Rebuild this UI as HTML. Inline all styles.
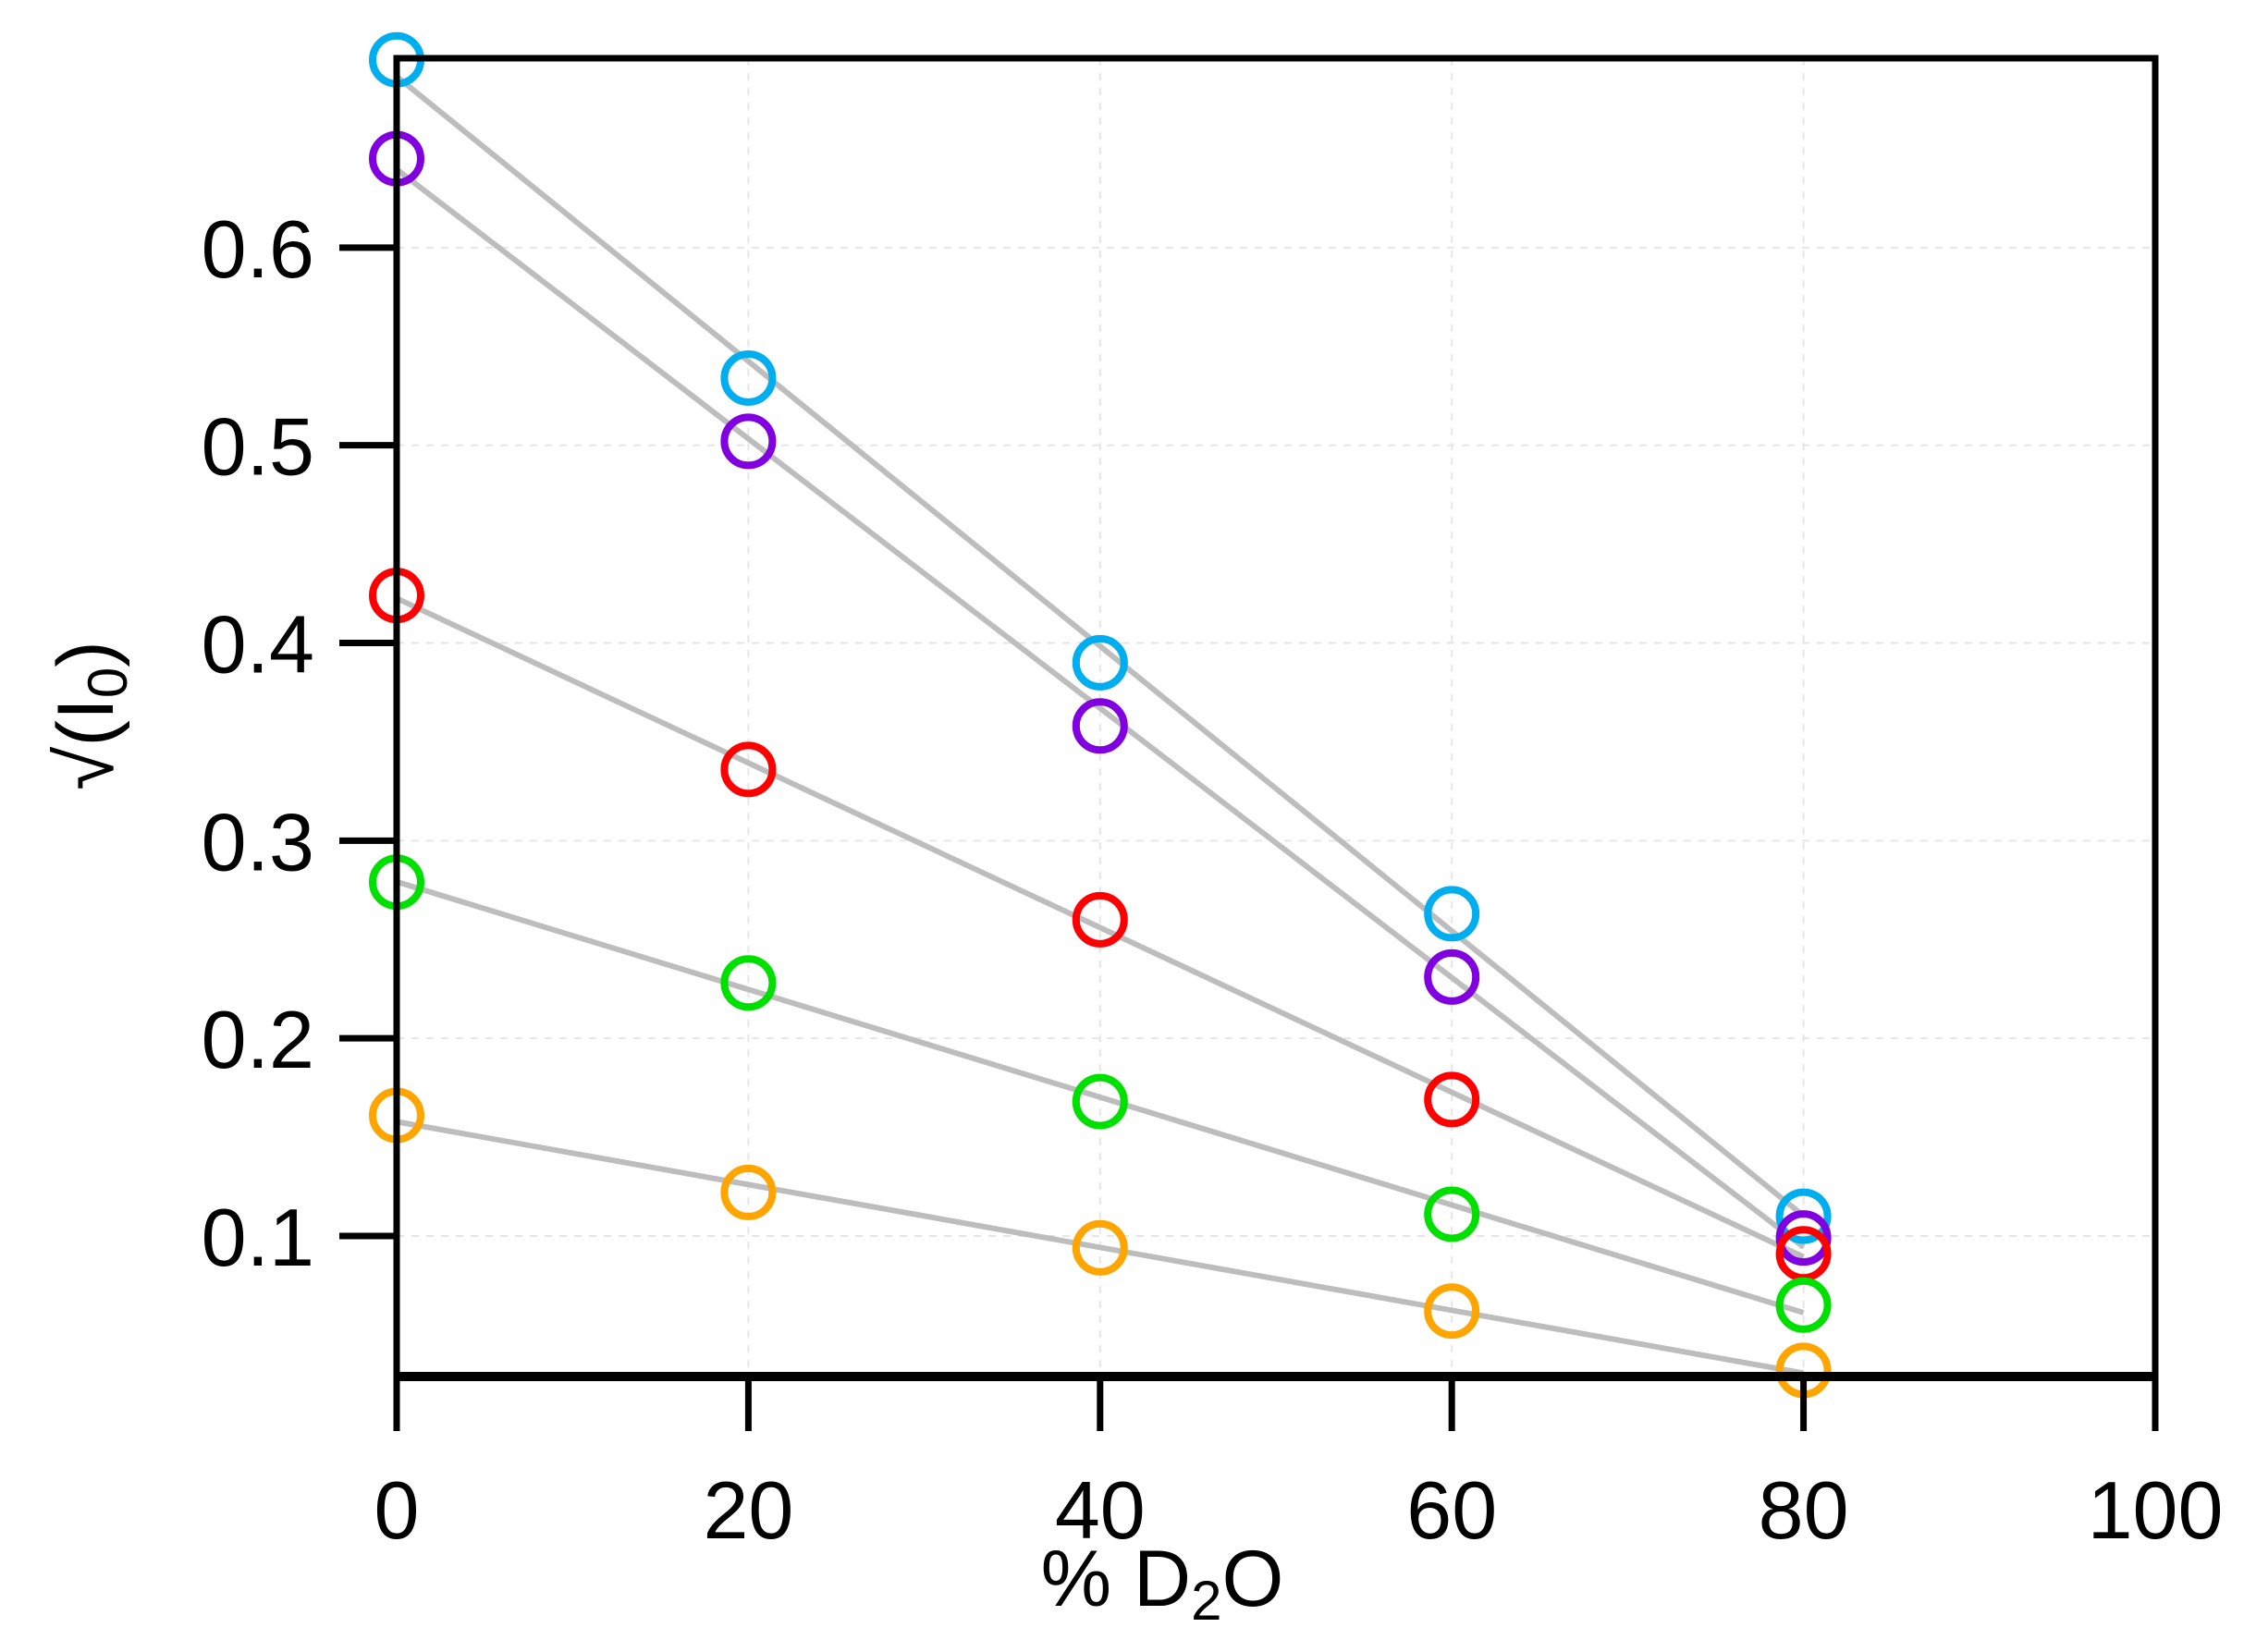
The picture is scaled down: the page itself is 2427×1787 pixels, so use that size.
<!DOCTYPE html>
<html><head><meta charset="utf-8"><style>
body{margin:0;background:#fff}
svg{display:block}
text{font-family:"Liberation Sans",Arial,sans-serif;fill:#000}
</style></head><body>
<svg id="chart" width="2427" height="1787" viewBox="0 0 2427 1787" xmlns="http://www.w3.org/2000/svg">
<g id="grid"></g>
<g id="fits"></g>
<g id="pts"></g>
<g id="axes"></g>
<text x="1257" y="1737" font-size="86" text-anchor="middle">% D<tspan font-size="60" dy="15">2</tspan><tspan dy="-15">O</tspan></text>
<text transform="translate(122,774) rotate(-90)" font-size="86" text-anchor="middle">√(I<tspan font-size="60" dy="15">0</tspan><tspan dy="-15">)</tspan></text>
</svg>
<script>
const xValues=[0,20,40,60,80];
const cyanSeries=[0.695,0.534,0.390,0.263,0.110];
const purpleSeries=[0.645,0.502,0.358,0.231,0.099];
const redSeries=[0.424,0.336,0.260,0.169,0.091];
const greenSeries=[0.279,0.228,0.168,0.111,0.065];
const orangeSeries=[0.161,0.122,0.094,0.062,0.032];
const seriesNames=['cyan','purple','red','green','orange'];
const seriesColors=['#00AEEF','#8000E0','#FF0000','#00E000','#FFA500'];
const xTicks=[0,20,40,60,80,100];
const yTicks=[0.1,0.2,0.3,0.4,0.5,0.6];
const yTickLabels=['0.1','0.2','0.3','0.4','0.5','0.6'];

const NS='http://www.w3.org/2000/svg';
const X0=429,X1=2331,Y0=1489,Y1=63;
const xMin=0,xMax=100,yMin=0.0289,yMax=0.6958;
function sx(v){return X0+(v-xMin)/(xMax-xMin)*(X1-X0);}
function sy(v){return Y0-(v-yMin)/(yMax-yMin)*(Y0-Y1);}
function mk(tag,attrs,parent){const e=document.createElementNS(NS,tag);for(const k in attrs)e.setAttribute(k,attrs[k]);parent.appendChild(e);return e;}
const grid=document.getElementById('grid'),axes=document.getElementById('axes'),fits=document.getElementById('fits'),pts=document.getElementById('pts');
xTicks.forEach(t=>{
  const g=mk('line',{x1:sx(t),x2:sx(t),y1:Y1,y2:Y0,stroke:'#e6e6e6','stroke-width':2,'stroke-dasharray':'8 8'},grid);
  
  
  const tk=mk('line',{x1:sx(t),x2:sx(t),y1:Y0,y2:1548,stroke:'#000','stroke-width':7},axes);
  
  
  const lb=mk('text',{x:sx(t),y:1664,'font-size':88,'text-anchor':'middle'},axes);
  lb.textContent=t;
  
  
});
yTicks.forEach((t,i)=>{
  const g=mk('line',{x1:X0,x2:X1,y1:sy(t),y2:sy(t),stroke:'#e6e6e6','stroke-width':2,'stroke-dasharray':'8 8'},grid);
  
  
  const tk=mk('line',{x1:367,x2:X0,y1:sy(t),y2:sy(t),stroke:'#000','stroke-width':7},axes);
  
  
  const lb=mk('text',{x:340,y:sy(t)+32,'font-size':88,'text-anchor':'end'},axes);
  lb.textContent=yTickLabels[i];
  
  
});
const frame=mk('rect',{x:X0,y:Y1,width:X1-X0,height:Y0-Y1,fill:'none',stroke:'#000','stroke-width':7},axes);


const xl=mk('line',{x1:X0-3,x2:X1+3,y1:Y0,y2:Y0,stroke:'#000','stroke-width':10},axes);


const allSeries=[cyanSeries,purpleSeries,redSeries,greenSeries,orangeSeries];
allSeries.forEach((ys,si)=>{
  const n=xValues.length;let mx=0,my=0;
  for(let i=0;i<n;i++){mx+=xValues[i];my+=ys[i];}mx/=n;my/=n;
  let sxy=0,sxx=0;for(let i=0;i<n;i++){sxy+=(xValues[i]-mx)*(ys[i]-my);sxx+=(xValues[i]-mx)**2;}
  const b=sxy/sxx,a=my-b*mx;
  const xa=xValues[0],xb=xValues[n-1];
  const fl=mk('line',{x1:sx(xa),y1:sy(a+b*xa),x2:sx(xb),y2:sy(a+b*xb),stroke:'#bdbdbd','stroke-width':6},fits);
  
  
  ys.forEach((v,i)=>{
    const c=mk('circle',{cx:sx(xValues[i]),cy:sy(v),r:26,fill:'none',stroke:seriesColors[si],'stroke-width':8},pts);
    
    
  });
});
</script>
</body></html>
